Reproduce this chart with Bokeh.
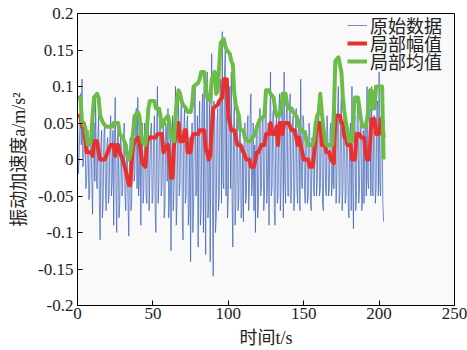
from bokeh.plotting import figure
from bokeh.models import Legend, LegendItem, FixedTicker, Range1d
from bokeh.embed import file_html
from bokeh.resources import INLINE

# ---- data ----
# raw samples at whole seconds
raw_whole = [
    0.06, 0.0, 0.09, 0.11, -0.005, 0.05, -0.03, 0.04, -0.05, 0.02,
    -0.075, 0.05, 0.09, -0.04, 0.06, -0.11, 0.04, -0.06, 0.05, -0.07,
    0.03, -0.05, 0.06, -0.03, -0.09, 0.085, -0.1, 0.04, -0.06, 0.02,
    -0.04, 0.05, -0.07, 0.02, -0.105, 0.03, -0.05, 0.06, -0.02, 0.07,
    0.085, -0.03, -0.09, 0.05, -0.04, 0.03, -0.06, 0.07, -0.02, 0.05,
    -0.05, 0.06, -0.1, 0.1, -0.03, 0.07, -0.04, 0.05, -0.06, 0.04,
    0.07, -0.05, -0.125, 0.06, -0.04, 0.1, -0.06, 0.08, -0.03, 0.09,
    -0.11, 0.07, -0.05, 0.06, -0.07, -0.14, 0.05, -0.06, 0.1, -0.04,
    -0.12, 0.08, -0.07, 0.09, 0.1, -0.13, 0.12, -0.06, -0.14, 0.145,
    -0.16, 0.06, -0.08, 0.07, -0.05, 0.11, 0.175, -0.04, 0.15, 0.06,
    -0.05, 0.1, 0.12, -0.12, 0.08, -0.06, 0.07, -0.05, 0.04, -0.07,
    -0.085, 0.05, -0.05, 0.06, -0.04, 0.09, -0.03, -0.07, -0.1, 0.05,
    -0.06, 0.07, -0.04, 0.06, -0.05, 0.08, -0.03, -0.09, 0.12, -0.04,
    0.07, -0.09, 0.06, -0.05, 0.09, -0.04, 0.07, 0.12, -0.06, 0.08,
    -0.05, 0.09, -0.03, 0.06, -0.05, 0.07, -0.06, 0.04, 0.11, -0.04,
    0.05, -0.06, 0.03, -0.05, 0.04, -0.07, 0.02, -0.05, 0.06, -0.03,
    0.08, -0.04, 0.05, -0.07, 0.04, -0.05, 0.03, -0.04, 0.05, -0.03,
    -0.04, 0.07, -0.02, 0.1, -0.05, 0.09, -0.04, 0.06, -0.05, 0.04,
    -0.08, 0.05, 0.1, -0.095, 0.06, -0.05, 0.08, -0.04, 0.05, -0.06,
    -0.06, 0.05, 0.1, -0.04, 0.07, 0.1, -0.05, 0.06, -0.04, 0.08,
    0.12, -0.05, 0.04, -0.085,
]
# raw samples at half seconds (t + 0.5)
raw_half = [
    -0.02, 0.04, 0.02, -0.01, 0.03, -0.04, 0.01, -0.055, 0.03, -0.03,
    0.02, -0.03, -0.02, 0.03, -0.06, 0.02, -0.08, 0.03, -0.04, 0.02,
    -0.06, 0.03, -0.05, 0.04, 0.02, -0.04, 0.03, -0.08, 0.03, -0.05,
    0.03, -0.05, 0.01, -0.06, 0.0, -0.07, 0.04, -0.03, 0.05, -0.04,
    -0.05, 0.04, 0.02, -0.06, 0.05, -0.05, 0.03, -0.07, 0.04, -0.06,
    0.03, -0.07, 0.04, -0.06, 0.05, -0.05, 0.03, -0.08, 0.05, -0.03,
    -0.08, 0.04, 0.0, -0.07, 0.05, -0.09, 0.04, -0.05, 0.06, -0.08,
    0.04, -0.06, 0.05, -0.09, 0.03, 0.02, -0.1, 0.07, -0.05, 0.06,
    0.03, -0.09, 0.06, -0.1, -0.03, 0.07, -0.08, 0.09, 0.05, -0.06,
    0.08, -0.1, 0.05, -0.07, 0.09, -0.06, -0.03, 0.12, -0.05, -0.08,
    0.06, -0.04, -0.05, 0.04, -0.09, 0.05, -0.07, 0.04, -0.08, 0.02,
    0.03, -0.06, 0.04, -0.07, 0.06, -0.05, 0.05, 0.02, 0.03, -0.08,
    0.04, -0.05, 0.05, -0.07, 0.06, -0.06, 0.05, 0.04, -0.05, 0.06,
    -0.07, 0.04, -0.06, 0.07, -0.07, 0.06, -0.08, -0.03, 0.06, -0.05,
    0.06, -0.06, 0.05, -0.07, 0.04, -0.04, 0.05, -0.07, -0.02, 0.06,
    -0.04, 0.04, -0.06, 0.05, -0.06, 0.03, -0.04, 0.05, -0.05, 0.05,
    -0.05, 0.03, -0.06, 0.05, -0.04, 0.06, -0.05, 0.04, -0.05, 0.03,
    0.05, -0.06, 0.07, -0.06, 0.06, -0.07, 0.05, -0.06, 0.05, -0.06,
    0.03, -0.07, -0.03, 0.05, -0.07, 0.06, -0.06, 0.05, -0.07, 0.04,
    0.04, -0.05, -0.03, 0.06, -0.05, -0.04, 0.06, -0.06, 0.07, -0.05,
    -0.03, 0.06, -0.06,
]

mean_t = [0, 2, 3, 5, 7, 9, 10, 11, 13, 14, 15, 17, 19, 23, 24, 27, 28, 30, 32, 33,
          34, 35, 36, 37, 38, 40, 41, 42, 43, 45, 46, 47, 48, 51, 52, 54, 55, 56, 58, 60,
          61, 62, 64, 65, 66, 67, 68, 69, 70, 72, 73, 75, 76, 77, 80, 81, 82, 84, 85, 86,
          88, 89, 91, 92, 93, 94, 95, 97, 98, 99, 101, 102, 103, 104, 105, 107, 108, 110, 111, 113,
          115, 116, 118, 119, 120, 121, 124, 125, 127, 128, 130, 131, 132, 134, 135, 136, 138, 139, 140, 142,
          143, 145, 146, 147, 149, 151, 152, 153, 156, 157, 158, 159, 160, 161, 162, 163, 164, 165, 169, 170,
          171, 173, 174, 175, 176, 177, 178, 179, 180, 182, 183, 184, 186, 187, 188, 189, 191, 192, 193, 194,
          195, 196, 197, 198, 202, 203]
mean_v = [0.085, 0.085, 0.05, 0.045, 0.02, 0.025, 0.06, 0.085, 0.09, 0.085, 0.06, 0.05, 0.045, 0.045, 0.05, 0.05, 0.035, 0.03, 0.02, 0.005,
          0.0, 0.005, 0.02, 0.04, 0.06, 0.065, 0.06, 0.04, 0.025, 0.02, 0.04, 0.07, 0.08, 0.08, 0.07, 0.07, 0.06, 0.045, 0.055, 0.06,
          0.05, 0.03, 0.025, 0.06, 0.08, 0.095, 0.09, 0.08, 0.075, 0.07, 0.065, 0.065, 0.075, 0.1, 0.105, 0.11, 0.12, 0.12, 0.1, 0.085,
          0.08, 0.11, 0.12, 0.09, 0.095, 0.13, 0.16, 0.165, 0.155, 0.15, 0.145, 0.135, 0.13, 0.09, 0.075, 0.06, 0.04, 0.04, 0.03, 0.025,
          0.025, 0.03, 0.035, 0.045, 0.05, 0.055, 0.06, 0.095, 0.095, 0.09, 0.085, 0.07, 0.06, 0.06, 0.07, 0.09, 0.09, 0.075, 0.07, 0.07,
          0.065, 0.06, 0.055, 0.045, 0.04, 0.035, 0.025, 0.02, 0.02, 0.03, 0.05, 0.06, 0.065, 0.09, 0.065, 0.045, 0.03, 0.02, 0.02, 0.065,
          0.135, 0.14, 0.13, 0.12, 0.085, 0.065, 0.05, 0.04, 0.025, 0.025, 0.06, 0.085, 0.085, 0.07, 0.055, 0.045, 0.045, 0.055, 0.07, 0.095,
          0.095, 0.07, 0.07, 0.1, 0.1, 0.0]

amp_t = [0, 2, 3, 4, 5, 6, 9, 10, 11, 13, 14, 15, 18, 20, 22, 24, 25, 26, 27, 28,
         30, 32, 33, 34, 35, 36, 37, 38, 40, 41, 42, 43, 45, 46, 47, 52, 53, 56, 57, 58,
         60, 61, 62, 63, 64, 65, 66, 67, 68, 70, 71, 72, 73, 75, 76, 77, 80, 81, 84, 85,
         86, 87, 88, 89, 90, 93, 94, 96, 97, 99, 100, 101, 102, 104, 105, 106, 108, 110, 112, 114,
         115, 117, 118, 119, 120, 122, 124, 125, 127, 128, 129, 131, 132, 133, 134, 135, 136, 137, 140, 141,
         142, 144, 145, 146, 147, 149, 150, 153, 154, 156, 157, 158, 159, 161, 162, 164, 165, 167, 168, 170,
         171, 174, 175, 176, 177, 178, 179, 181, 182, 184, 185, 187, 188, 190, 191, 192, 193, 194, 195, 197,
         198, 200, 201, 202, 203]
amp_v = [0.06, 0.06, 0.045, 0.05, 0.03, 0.01, 0.01, 0.005, 0.025, 0.025, 0.01, 0.0, 0.0, 0.01, 0.02, 0.02, 0.005, 0.02, 0.02, 0.01,
         0.0, -0.015, -0.025, -0.035, -0.035, 0.0, 0.02, 0.025, 0.03, 0.025, 0.01, -0.005, -0.01, 0.02, 0.03, 0.03, 0.035, 0.035, 0.01, 0.015,
         0.02, 0.0, -0.025, -0.025, 0.02, 0.03, 0.05, 0.05, 0.025, 0.025, 0.04, 0.04, 0.01, 0.01, 0.03, 0.035, 0.035, 0.04, 0.04, 0.015,
         0.01, 0.0, 0.005, 0.04, 0.07, 0.075, 0.08, 0.085, 0.11, 0.11, 0.06, 0.05, 0.04, 0.04, 0.03, 0.02, 0.02, 0.01, 0.0, 0.0,
         -0.01, -0.01, 0.0, 0.01, 0.01, 0.02, 0.02, 0.035, 0.035, 0.05, 0.035, 0.035, 0.045, 0.02, 0.05, 0.05, 0.035, 0.05, 0.05, 0.045,
         0.04, 0.04, 0.03, 0.02, 0.03, 0.01, 0.0, 0.0, -0.01, -0.01, 0.01, 0.03, 0.05, 0.05, 0.02, 0.02, 0.01, 0.01, 0.0, -0.005,
         0.06, 0.06, 0.05, 0.05, 0.03, 0.03, 0.02, 0.02, 0.0, 0.0, 0.035, 0.035, 0.03, 0.03, 0.01, 0.0, 0.0, 0.02, 0.055, 0.055,
         0.035, 0.035, 0.055, 0.055, 0.03]

x_ticks = [0, 50, 100, 150, 200, 250]
y_ticks = [-0.2, -0.15, -0.1, -0.05, 0, 0.05, 0.1, 0.15, 0.2]
y_tick_labels = ["-0.2", "-0.15", "-0.1", "-0.05", "0", "0.05", "0.1", "0.15", "0.2"]
legend_labels = ["原始数据", "局部幅值", "局部均值"]

# merge whole and half second samples into one time series
raw_t, raw_v = [], []
for i, v in enumerate(raw_whole):
    raw_t.append(float(i))
    raw_v.append(v)
    if i < len(raw_half):
        raw_t.append(i + 0.5)
        raw_v.append(raw_half[i])

SERIF = "'Liberation Serif', 'Times New Roman', serif"
LABEL_FONT = "'Liberation Serif', 'Noto Sans CJK SC'"

p = figure(width=467, height=350, output_backend="svg", toolbar_location=None,
           x_range=Range1d(0, 250), y_range=Range1d(-0.2, 0.2),
           min_border_left=77, min_border_right=13, min_border_top=13, min_border_bottom=43,
           background_fill_color="#f9f9f9", border_fill_color="white",
           outline_line_color="black", outline_line_width=1)
p.grid.visible = False

r_raw = p.line(raw_t, raw_v, line_color="#3d62b8", line_width=0.8, line_alpha=0.9)
r_amp = p.line(amp_t, amp_v, line_color="#e8302e", line_width=4, line_join="round")
r_mean = p.line(mean_t, mean_v, line_color="#6cbd48", line_width=4, line_join="round")

for ax in (p.xaxis[0], p.yaxis[0]):
    ax.major_tick_in = 5
    ax.major_tick_out = 0
    ax.minor_tick_line_color = None
    ax.major_label_text_font = SERIF
    ax.major_label_text_font_size = "17px"
    ax.major_label_text_color = "#222222"
    ax.axis_line_color = "black"
    ax.major_tick_line_color = "black"
    ax.axis_label_text_font = LABEL_FONT
    ax.axis_label_text_font_size = "18px"
    ax.axis_label_text_font_style = "normal"
    ax.axis_label_text_color = "#222222"

p.xaxis.ticker = FixedTicker(ticks=x_ticks)
p.yaxis.ticker = FixedTicker(ticks=y_ticks)
p.yaxis.major_label_overrides = {t: s for t, s in zip(y_ticks, y_tick_labels)}
p.xaxis.major_label_standoff = 2
p.yaxis.major_label_standoff = 4
p.xaxis.axis_label = "时间t/s"
p.yaxis.axis_label = "振动加速度a/m/s²"
p.xaxis.axis_label_standoff = 6
p.yaxis.axis_label_standoff = 6

# one single-row legend per entry, stacked 18px apart (frame-relative positions)
renderers = [r_raw, r_amp, r_mean]
legend_bottoms = [267, 249, 231]
for lab, rend, yb in zip(legend_labels, renderers, legend_bottoms):
    lg = Legend(items=[LegendItem(label=lab, renderers=[rend])],
                location=(270, yb), margin=0, padding=0, spacing=0,
                glyph_width=20, glyph_height=18, label_height=18, label_standoff=3,
                label_text_font=LABEL_FONT, label_text_font_size="18px",
                label_text_color="#222222",
                border_line_color=None, background_fill_alpha=0)
    p.add_layout(lg)

open("out.html", "w").write(file_html(p, INLINE))
